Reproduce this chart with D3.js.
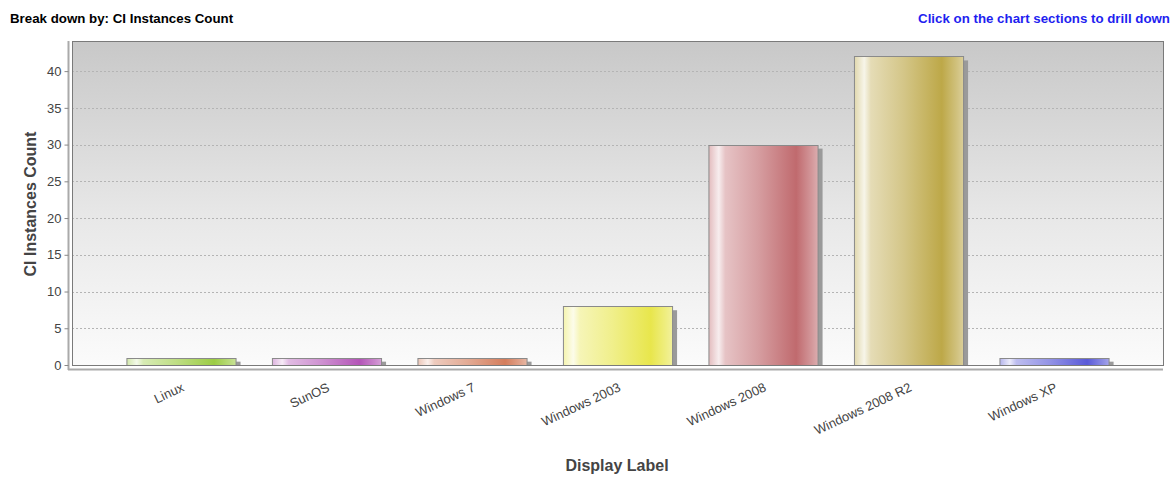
<!DOCTYPE html>
<html><head><meta charset="utf-8">
<script src="https://cdn.jsdelivr.net/npm/d3@7"></script>
<style>
body{margin:0;background:#fff;}
svg{display:block;font-family:"Liberation Sans",Arial,sans-serif;}
</style></head>
<body><svg id="c" width="1175" height="477"></svg>
<script>
const categories = ["Linux","SunOS","Windows 7","Windows 2003","Windows 2008","Windows 2008 R2","Windows XP"];
const values = [1,1,1,8,30,42,1];
const barColors = ["#9ccc44","#b455b8","#d47d5c","#e8e64c","#c06a6e","#bda848","#5a5ad8"];
const yTicks = [0,5,10,15,20,25,30,35,40];
const title = "Break down by: CI Instances Count";
const drillText = "Click on the chart sections to drill down";
const yTitle = "CI Instances Count";
const xTitle = "Display Label";

const FONT = "'Liberation Sans',Arial,sans-serif";
const svg = d3.select("#c");
const L=72, R=1163, T=41, B=365;
const x = d3.scaleBand().domain(categories).range([L,R]).paddingInner(0.25).paddingOuter(0.374);
const y = d3.scaleLinear().domain([0,44.1]).range([B,T]);

const defs = svg.append("defs");
const bg = defs.append("linearGradient").attr("id","bg").attr("x1",0).attr("y1",0).attr("x2",0).attr("y2",1);
bg.append("stop").attr("offset","0%").attr("stop-color","#c8c8c8");
bg.append("stop").attr("offset","55%").attr("stop-color","#e8e8e8");
bg.append("stop").attr("offset","100%").attr("stop-color","#fbfbfb");

barColors.forEach((c,i)=>{
  const g = defs.append("linearGradient").attr("id","bar"+i).attr("x1",0).attr("y1",0).attr("x2",1).attr("y2",0);
  const light = d3.interpolateRgb(c,"#ffffff");
  g.append("stop").attr("offset","0%").attr("stop-color",light(0.55));
  g.append("stop").attr("offset","9%").attr("stop-color",light(0.88));
  g.append("stop").attr("offset","15%").attr("stop-color",light(0.6));
  g.append("stop").attr("offset","45%").attr("stop-color",light(0.35));
  g.append("stop").attr("offset","80%").attr("stop-color",c);
  g.append("stop").attr("offset","94%").attr("stop-color",light(0.3));
  g.append("stop").attr("offset","100%").attr("stop-color",light(0.45));
});

// titles
svg.append("text").attr("x",10).attr("y",22.5).attr("font-size",13.3).attr("font-weight","bold").attr("fill","#000").text(title);
svg.append("text").attr("x",1170).attr("y",22.5).attr("text-anchor","end").attr("font-size",13.3).attr("font-weight","bold").attr("fill","#1f1ff0").text(drillText);

// plot background
svg.append("rect").attr("x",L).attr("y",T).attr("width",R-L).attr("height",B-T).attr("fill","url(#bg)");

// gridlines
svg.append("g").selectAll("line").data(yTicks.filter(d=>d>0)).join("line")
  .attr("x1",L).attr("x2",R).attr("y1",d=>Math.round(y(d))+0.5).attr("y2",d=>Math.round(y(d))+0.5)
  .attr("stroke","#b4b4b4").attr("stroke-dasharray","2,2").attr("stroke-width",1);

// shadows
svg.append("g").selectAll("rect").data(values).join("rect")
  .attr("x",(d,i)=>x(categories[i])+5).attr("y",d=>y(d)+4)
  .attr("width",x.bandwidth()).attr("height",d=>B-y(d)-4)
  .attr("fill","#9a9a9a");

// bars
svg.append("g").selectAll("rect").data(values).join("rect")
  .attr("x",(d,i)=>x(categories[i])+0.5).attr("y",d=>Math.round(y(d))+0.5)
  .attr("width",x.bandwidth()).attr("height",d=>B-Math.round(y(d)))
  .attr("fill",(d,i)=>"url(#bar"+i+")").attr("stroke","#8a8a8a").attr("stroke-width",1);

// plot border
svg.append("rect").attr("x",L+0.5).attr("y",T+0.5).attr("width",R-L).attr("height",B-T)
  .attr("fill","none").attr("stroke","#7a7a7a");

// y axis
const ya = svg.append("g").attr("transform","translate(68.5,0)")
  .call(d3.axisLeft(y).tickValues(yTicks).tickSize(4).tickPadding(3));
ya.select(".domain").attr("stroke","#aaa").attr("stroke-width",2).attr("d",`M0,${T}V${B+5}`);
ya.selectAll(".tick line").attr("stroke","#888");
ya.selectAll(".tick text").attr("font-size",13).attr("fill","#444").attr("font-family",FONT);

// x axis
const xa = svg.append("g").attr("transform",`translate(0,${B+4.5})`)
  .call(d3.axisBottom(x).tickSize(0).tickPadding(0));
xa.select(".domain").attr("stroke","#aaa").attr("stroke-width",2).attr("d",`M${L-4},0H${R}`);
xa.selectAll(".tick text").attr("font-size",13).attr("fill","#444")
  .attr("font-family",FONT)
  .attr("text-anchor","end").attr("dy",0).attr("y",0)
  .attr("transform","translate(4,21) rotate(-25)");

// axis titles
svg.append("text").attr("transform","translate(36,204) rotate(-90)").attr("text-anchor","middle")
  .attr("font-size",16).attr("font-weight","bold").attr("fill","#444").attr("font-family",FONT).text(yTitle);
svg.append("text").attr("x",617).attr("y",471).attr("text-anchor","middle")
  .attr("font-size",16).attr("font-weight","bold").attr("fill","#444").attr("font-family",FONT).text(xTitle);
</script></body></html>
